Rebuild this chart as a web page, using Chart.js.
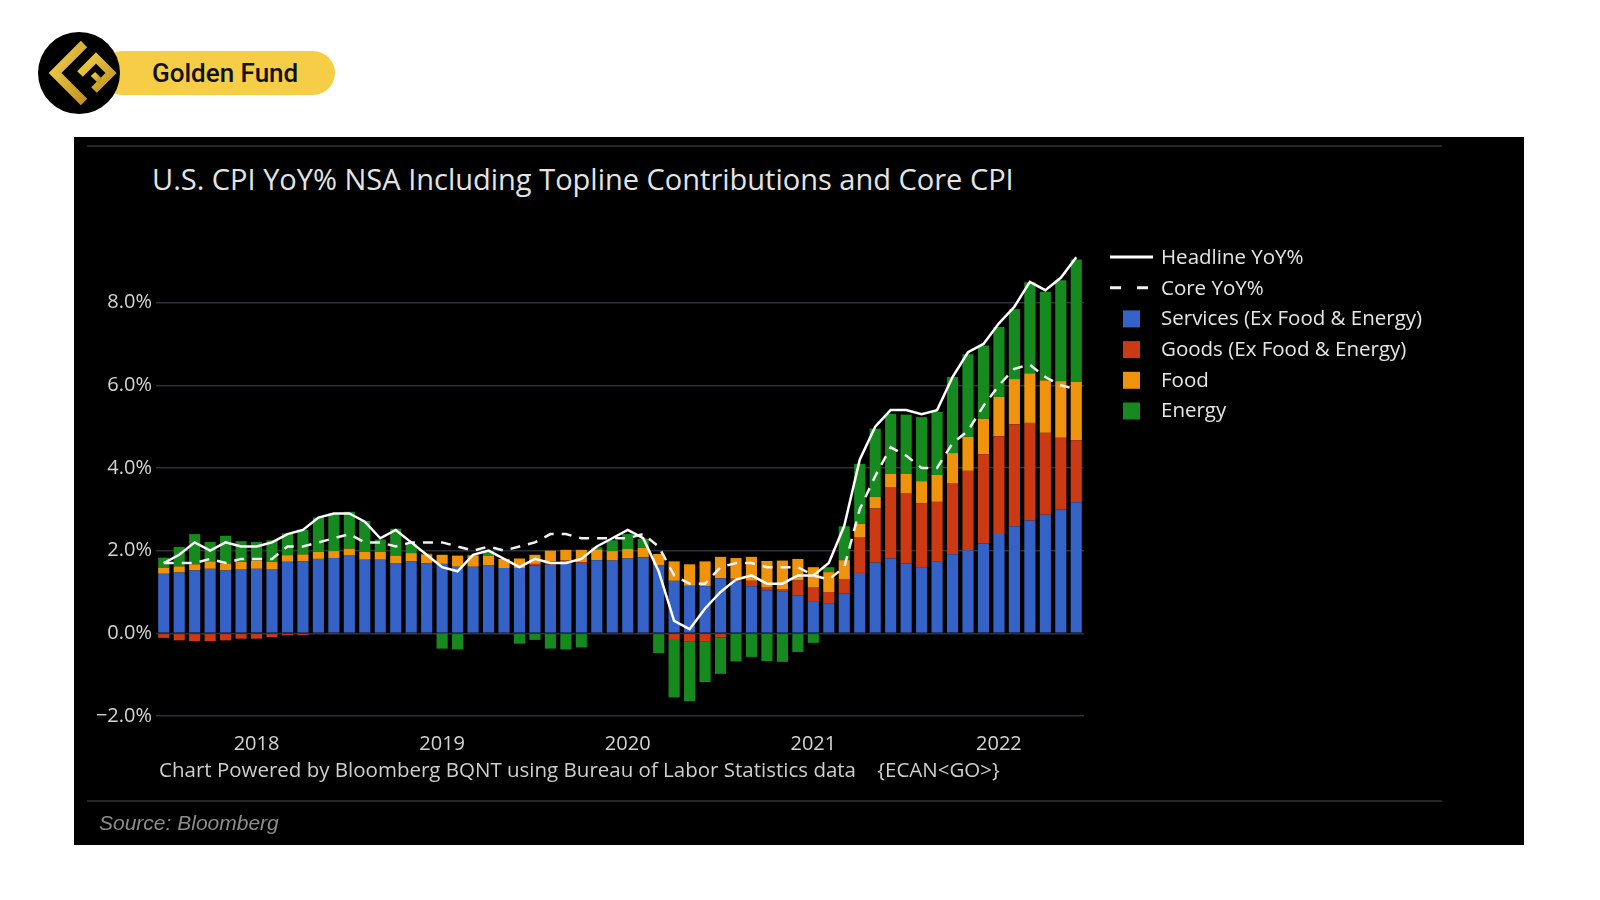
<!DOCTYPE html>
<html>
<head>
<meta charset="utf-8">
<title>U.S. CPI YoY%</title>
<script src="https://cdn.jsdelivr.net/npm/chart.js@4.4.1/dist/chart.umd.min.js"></script>
<style>
  body { margin: 0; width: 1600px; height: 900px; background: #fff; position: relative; overflow: hidden; font-family: "Open Sans", sans-serif; }
  #pill { position: absolute; left: 100px; top: 51px; width: 235px; height: 44px; border-radius: 22px; background: #f6cd46; }
  #pillText { position: absolute; left: 152px; top: 54px; font-family: Roboto, sans-serif; font-weight: 500; font-size: 26px; line-height: 38px; color: #111; }
  #logo { position: absolute; left: 0; top: 0; }
  #panel { position: absolute; left: 74px; top: 137px; width: 1450px; height: 708px; background: #000; }
  .rule { position: absolute; left: 13px; width: 1355px; height: 2px; background: #262626; }
  #title { position: absolute; left: 78px; top: 22px; font-size: 29px; line-height: 40px; color: #e4e4e4; white-space: nowrap; }
  #footer { position: absolute; left: 85px; top: 618px; font-size: 20.5px; line-height: 28px; color: #cfcfcf; white-space: pre; }
  #source { position: absolute; left: 25px; top: 673px; font-family: "Liberation Sans", Arial, sans-serif; font-style: italic; font-size: 21px; line-height: 26px; color: #8c8c8c; }
  canvas { position: absolute; left: 0; top: 0; }
</style>
</head>
<body>
<div id="pill"></div>
<div id="pillText">Golden Fund</div>
<svg id="logo" width="130" height="120">
  <defs>
    <linearGradient id="gold" x1="0" y1="0" x2="1" y2="1">
      <stop offset="0" stop-color="#f2d04a"/>
      <stop offset="1" stop-color="#c09322"/>
    </linearGradient>
  </defs>
  <circle cx="79" cy="73" r="41" fill="#000"/>
  <path d="M84 44 L55 73 L84 102" fill="none" stroke="url(#gold)" stroke-width="9"/>
  <path d="M80 74 L96 58 L111 73 L94 90" fill="none" stroke="url(#gold)" stroke-width="8"/>
  <path d="M93 74 L100 81" fill="none" stroke="url(#gold)" stroke-width="6"/>
</svg>

<div id="panel">
  <div class="rule" style="top:8px"></div>
  <div id="title">U.S. CPI YoY% NSA Including Topline Contributions and Core CPI</div>
  <canvas id="cpiChart" width="1450" height="708"></canvas>
  <div id="footer">Chart Powered by Bloomberg BQNT using Bureau of Labor Statistics data    {ECAN&lt;GO&gt;}</div>
  <div class="rule" style="top:663px"></div>
  <div id="source">Source: Bloomberg</div>
</div>

<script>
// monthly, Jul 2017 - Jun 2022
const months = [
  "2017-07", "2017-08", "2017-09", "2017-10", "2017-11", "2017-12",
  "2018-01", "2018-02", "2018-03", "2018-04", "2018-05", "2018-06", "2018-07", "2018-08", "2018-09", "2018-10", "2018-11", "2018-12",
  "2019-01", "2019-02", "2019-03", "2019-04", "2019-05", "2019-06", "2019-07", "2019-08", "2019-09", "2019-10", "2019-11", "2019-12",
  "2020-01", "2020-02", "2020-03", "2020-04", "2020-05", "2020-06", "2020-07", "2020-08", "2020-09", "2020-10", "2020-11", "2020-12",
  "2021-01", "2021-02", "2021-03", "2021-04", "2021-05", "2021-06", "2021-07", "2021-08", "2021-09", "2021-10", "2021-11", "2021-12",
  "2022-01", "2022-02", "2022-03", "2022-04", "2022-05", "2022-06"
];

const headline = [
  1.7, 1.9, 2.2, 2.0, 2.2, 2.1,
  2.1, 2.2, 2.4, 2.5, 2.8, 2.9, 2.9, 2.7, 2.3, 2.5, 2.2, 1.9,
  1.6, 1.5, 1.9, 2.0, 1.8, 1.6, 1.8, 1.7, 1.7, 1.8, 2.1, 2.3,
  2.5, 2.3, 1.5, 0.3, 0.1, 0.6, 1.0, 1.3, 1.4, 1.2, 1.2, 1.4,
  1.4, 1.7, 2.6, 4.2, 5.0, 5.4, 5.4, 5.3, 5.4, 6.2, 6.8, 7.0,
  7.5, 7.9, 8.5, 8.3, 8.6, 9.1
];

const core = [
  1.7, 1.7, 1.7, 1.8, 1.7, 1.8,
  1.8, 1.8, 2.1, 2.1, 2.2, 2.3, 2.4, 2.2, 2.2, 2.1, 2.2, 2.2,
  2.2, 2.1, 2.0, 2.1, 2.0, 2.1, 2.2, 2.4, 2.4, 2.3, 2.3, 2.3,
  2.3, 2.4, 2.1, 1.4, 1.2, 1.2, 1.6, 1.7, 1.7, 1.6, 1.6, 1.6,
  1.4, 1.3, 1.6, 3.0, 3.8, 4.5, 4.3, 4.0, 4.0, 4.6, 4.9, 5.5,
  6.0, 6.4, 6.5, 6.2, 6.0, 5.9
];

const services = [
  1.44, 1.47, 1.52, 1.56, 1.52, 1.54,
  1.56, 1.54, 1.73, 1.74, 1.80, 1.82, 1.88, 1.78, 1.78, 1.70, 1.74, 1.69,
  1.68, 1.61, 1.61, 1.64, 1.58, 1.58, 1.64, 1.66, 1.68, 1.70, 1.77, 1.76,
  1.81, 1.84, 1.64, 1.27, 1.15, 1.14, 1.33, 1.27, 1.14, 1.04, 1.02, 0.92,
  0.76, 0.73, 0.96, 1.46, 1.71, 1.81, 1.69, 1.60, 1.73, 1.91, 2.01, 2.17,
  2.40, 2.59, 2.73, 2.87, 2.99, 3.17
];

const goods = [
  -0.11, -0.17, -0.19, -0.19, -0.17, -0.13,
  -0.13, -0.09, -0.05, -0.04, -0.02, -0.01, 0.00, 0.00, -0.01, 0.00, -0.01, -0.01,
  -0.01, 0.00, 0.00, 0.00, -0.01, 0.00, 0.04, 0.08, 0.08, 0.02, 0.00, 0.00,
  -0.02, -0.01, -0.02, -0.16, -0.19, -0.19, -0.10, 0.05, 0.13, 0.08, 0.05, 0.36,
  0.36, 0.27, 0.34, 0.87, 1.31, 1.73, 1.69, 1.55, 1.45, 1.71, 1.92, 2.16,
  2.37, 2.47, 2.36, 1.98, 1.74, 1.50
];

const food = [
  0.15, 0.15, 0.15, 0.18, 0.17, 0.19,
  0.20, 0.19, 0.16, 0.17, 0.17, 0.17, 0.17, 0.19, 0.19, 0.18, 0.20, 0.22,
  0.22, 0.27, 0.27, 0.24, 0.22, 0.23, 0.22, 0.26, 0.26, 0.30, 0.26, 0.23,
  0.23, 0.23, 0.28, 0.47, 0.52, 0.60, 0.52, 0.50, 0.58, 0.63, 0.69, 0.52,
  0.48, 0.48, 0.47, 0.32, 0.28, 0.32, 0.48, 0.53, 0.65, 0.74, 0.82, 0.86,
  0.95, 1.09, 1.20, 1.27, 1.37, 1.41
];

const energy = [
  0.24, 0.47, 0.73, 0.47, 0.67, 0.50,
  0.45, 0.52, 0.53, 0.60, 0.83, 0.90, 0.89, 0.75, 0.30, 0.65, 0.23, 0.02,
  -0.36, -0.39, 0.02, 0.10, 0.00, -0.25, -0.16, -0.37, -0.39, -0.34, 0.05, 0.26,
  0.36, 0.22, -0.46, -1.39, -1.45, -0.99, -0.88, -0.68, -0.57, -0.67, -0.69, -0.45,
  -0.23, 0.12, 0.82, 1.45, 1.65, 1.45, 1.43, 1.55, 1.53, 1.84, 2.00, 1.77,
  1.69, 1.69, 2.20, 2.14, 2.44, 2.96
];

const yMin = -2;
const yMax = 9.2;

Chart.defaults.font.family = '"Open Sans", sans-serif';

// legend drawn to the right of the plot, like the bloomberg one
const sideLegend = {
  id: "sideLegend",
  afterDraw(chart) {
    const { ctx, chartArea } = chart;
    const x0 = chartArea.right + 26;
    let y = chartArea.top + 4;
    ctx.save();
    ctx.font = '20.5px "Open Sans"';
    ctx.textBaseline = "middle";
    chart.data.datasets.forEach((ds) => {
      if (ds.type === "line") {
        ctx.strokeStyle = ds.borderColor;
        ctx.lineWidth = 3;
        ctx.setLineDash(ds.borderDash ? [11, 16] : []);
        ctx.beginPath();
        ctx.moveTo(x0, y);
        ctx.lineTo(x0 + 43, y);
        ctx.stroke();
        ctx.setLineDash([]);
      } else {
        ctx.fillStyle = ds.backgroundColor;
        ctx.fillRect(x0 + 13, y - 8, 17, 17);
      }
      ctx.fillStyle = "#e6e6e6";
      ctx.fillText(ds.label, x0 + 51, y + 1);
      y += 30.7;
    });
    ctx.restore();
  },
};

const ctx = document.getElementById("cpiChart").getContext("2d");
new Chart(ctx, {
  type: "bar",
  data: {
    labels: months,
    datasets: [
      { type: "line", label: "Headline YoY%", data: headline, stack: "headline", borderColor: "#ffffff", borderWidth: 2.5, pointRadius: 0, tension: 0, order: 0 },
      { type: "line", label: "Core YoY%", data: core, stack: "core", borderColor: "#f2f2f2", borderWidth: 2.5, borderDash: [10, 8], pointRadius: 0, tension: 0, order: 0 },
      { label: "Services (Ex Food & Energy)", data: services, backgroundColor: "#3562c6", order: 1 },
      { label: "Goods (Ex Food & Energy)", data: goods, backgroundColor: "#cc3a14", order: 1 },
      { label: "Food", data: food, backgroundColor: "#ef930c", order: 1 },
      { label: "Energy", data: energy, backgroundColor: "#168a1e", order: 1 },
    ],
  },
  options: {
    responsive: false,
    devicePixelRatio: 1,
    animation: false,
    layout: { padding: { left: 0, right: 440, top: 116, bottom: 89 } },
    datasets: { bar: { barPercentage: 0.72, categoryPercentage: 1.0 } },
    plugins: {
      legend: { display: false },
      tooltip: { enabled: false },
    },
    scales: {
      x: {
        stacked: true,
        grid: { display: false },
        border: { display: false },
        afterFit: (scale) => { scale.height = 40; },
        ticks: {
          autoSkip: false,
          maxRotation: 0,
          padding: 8,
          color: "#d4d4d4",
          font: { size: 20 },
          callback: (value, index) => (months[index].endsWith("-01") ? months[index].slice(0, 4) : null),
        },
      },
      y: {
        stacked: true,
        min: yMin,
        max: yMax,
        border: { display: false },
        grid: { color: "#2c3038", lineWidth: 1.5, drawTicks: false },
        afterFit: (scale) => { scale.width = 82; },
        ticks: {
          stepSize: 2,
          includeBounds: false,
          padding: 4,
          color: "#d4d4d4",
          font: { size: 20 },
          callback: (v) => (v < 0 ? "\u2212" : "") + Math.abs(v).toFixed(1) + "%",
        },
      },
    },
  },
  plugins: [sideLegend],
});
</script>
</body>
</html>
